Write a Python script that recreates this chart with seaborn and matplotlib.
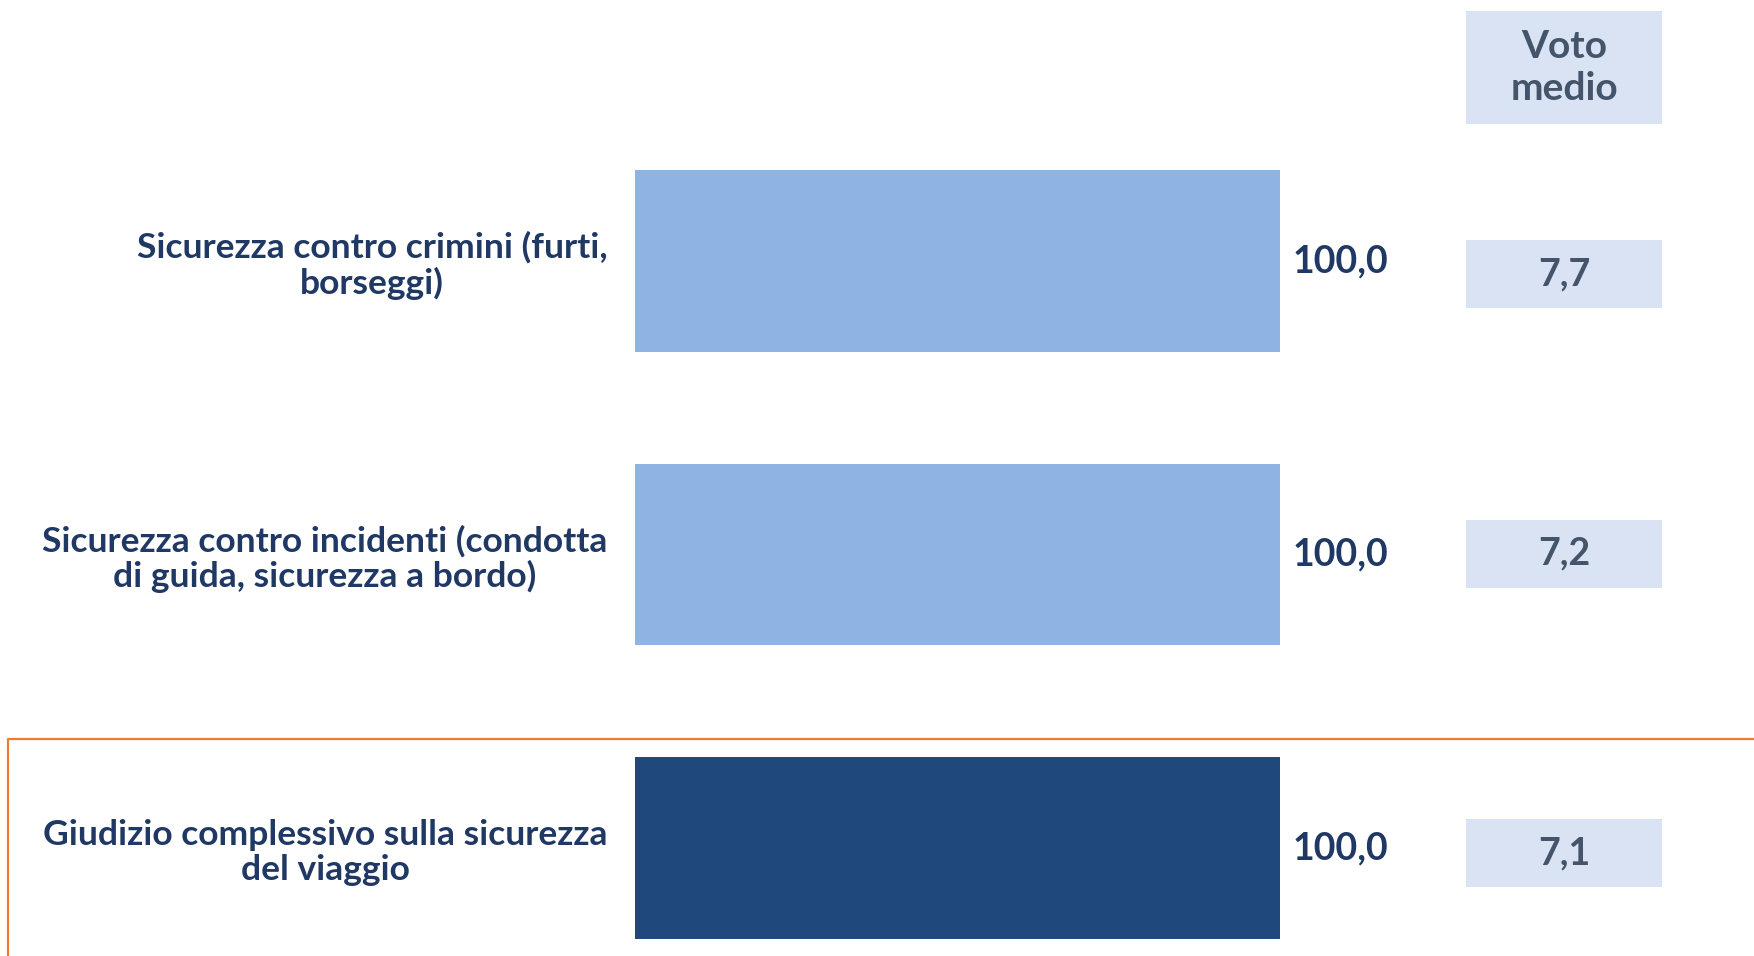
import matplotlib
matplotlib.use("Agg")
import matplotlib.pyplot as plt
from matplotlib.patches import Rectangle
from matplotlib.lines import Line2D
import seaborn as sns
import pandas as pd

# Data
categories = [
    "Sicurezza contro crimini (furti,\nborseggi)",
    "Sicurezza contro incidenti (condotta\ndi guida, sicurezza a bordo)",
    "Giudizio complessivo sulla sicurezza\ndel viaggio",
]
percentages = [100.0, 100.0, 100.0]
mean_scores = [7.7, 7.2, 7.1]
score_header = "Voto\nmedio"
bar_colors = ["#8EB4E3", "#8EB4E3", "#1F497D"]

df = pd.DataFrame({"categoria": categories, "valore": percentages})

sns.set_theme(style="white")
plt.rcParams["font.family"] = ["Lato", "DejaVu Sans"]

W, H = 1754, 956
fig = plt.figure(figsize=(W / 100, H / 100), dpi=100)
fig.patch.set_facecolor("white")

# Axes: x 0..100 spans bar area, extra room on the right for the score column
x0_px, x100_px = 635, 1280
px_per_unit = (x100_px - x0_px) / 100.0
xmax = (W - x0_px) / px_per_unit
ax = fig.add_axes([x0_px / W, 0, (W - x0_px) / W, 1])

c0_px, step_px = 261.0, 293.5

sns.barplot(data=df, x="valore", y="categoria", hue="categoria",
            palette=bar_colors, width=0.62, legend=False, ax=ax,
            saturation=1, edgecolor="none")
ax.set_xlim(0, xmax)
ax.set_ylim((H - c0_px) / step_px, -c0_px / step_px)

navy = "#1F3864"
for container, v in zip(ax.containers, percentages):
    ax.bar_label(container, labels=[f"{v:.1f}".replace(".", ",")],
                 padding=9, fontsize=27, fontweight="bold", color=navy)

ax.set_xlabel("")
ax.set_ylabel("")
ax.set_xticks([])
ax.tick_params(axis="y", length=0, pad=20)
for lbl in ax.get_yticklabels():
    lbl.set_fontsize(25.5)
    lbl.set_fontweight("bold")
    lbl.set_color(navy)
    lbl.set_multialignment("center")
    lbl.set_linespacing(1.1)
for s in ax.spines.values():
    s.set_visible(False)
ax.set_facecolor("none")

# Score column
box_fill = "#DAE3F3"
score_color = "#44546A"
bx0 = (1466 - x0_px) / px_per_unit
bx1 = (1662 - x0_px) / px_per_unit
bw = bx1 - bx0
bh = 68 / step_px
box_shift_px = [13, -1, 5]
for i, (s, d) in enumerate(zip(mean_scores, box_shift_px)):
    yc = i + d / step_px
    ax.add_patch(Rectangle((bx0, yc - bh / 2), bw, bh, facecolor=box_fill,
                           edgecolor="none", clip_on=False, zorder=1))
    ax.text(bx0 + bw / 2, yc, f"{s:.1f}".replace(".", ","), ha="center",
            va="center", fontsize=27, fontweight="bold", color=score_color)

hy0 = (11 - c0_px) / step_px
hy1 = (124 - c0_px) / step_px
ax.add_patch(Rectangle((bx0, hy0), bw, hy1 - hy0, facecolor=box_fill,
                       edgecolor="none", clip_on=False, zorder=1))
ax.text(bx0 + bw / 2, (hy0 + hy1) / 2, score_header, ha="center", va="center",
        fontsize=28, fontweight="bold", color=score_color, linespacing=1.25)

# Highlight frame around the overall rating
orange = "#ED7D31"
fx, fy = 8 / W, 1 - 739 / H
fig.add_artist(Line2D([fx, fx, 1.0], [0, fy, fy], color=orange, lw=1.6))

fig.savefig("out.png", dpi=100, facecolor="white")
